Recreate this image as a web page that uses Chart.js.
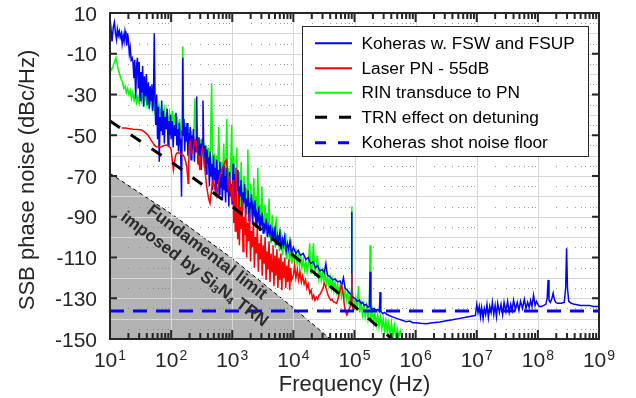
<!DOCTYPE html>
<html>
<head>
<meta charset="utf-8">
<script src="https://cdn.jsdelivr.net/npm/chart.js@4.4.1/dist/chart.umd.min.js"></script>
<style>
  html, body { margin: 0; padding: 0; background: #ffffff; }
  #c { display: block; }
</style>
</head>
<body>
<canvas id="c" width="636" height="398"></canvas>
<script>
// ---- Koheras laser measured with FSW and FSUP analysers ----
const kohFreq = [
  10, 10.4, 10.8, 11.3, 11.8, 12.3, 12.8, 13.2, 13.7, 14.2, 14.7, 15.3, 15.8, 16.4, 17, 17.6, 18.2, 18.8, 19.4, 20,
  20.7, 21.4, 22.2, 23, 23.8, 24.6, 25.4, 26.3, 27.2, 28.1, 29, 30, 31, 32, 33, 34.2, 35.4, 36.6, 38, 39.4,
  41, 42.5, 44, 45.5, 47, 48.5, 50, 51.5, 53, 54.5, 56, 58, 60, 62, 64, 66, 68, 70, 72.5, 75,
  77.5, 80, 83, 86, 89, 92, 95, 98, 100,
  104, 108, 112, 116, 120, 124, 128, 132, 136, 140, 144, 148, 151, 155, 158, 162, 167, 172, 177, 182,
  188, 194, 200, 206, 212, 218, 225, 232, 240, 248, 256, 262, 268, 276, 285, 294, 303, 312, 322, 332,
  342, 352, 363, 374, 386, 398, 410, 423, 436, 450, 464, 478, 493, 508, 524, 540, 557, 574, 592, 610,
  629, 648, 668, 689, 710, 732, 755, 778, 802, 827, 853, 879, 906, 934, 963, 1000,
  1030, 1060, 1100, 1130, 1170, 1200, 1240, 1280, 1320, 1360, 1400, 1450, 1500, 1550, 1600, 1650, 1700, 1760, 1820, 1880,
  1940, 2000, 2070, 2140, 2210, 2290, 2370, 2450, 2530, 2620, 2710, 2800, 2900, 3000, 3100, 3200, 3300, 3450, 3600, 3750,
  3900, 4050, 4200, 4400, 4600, 4800, 5000, 5250, 5500, 5750, 6000, 6300, 6600, 6900, 7200, 7600, 8000, 8400, 8800, 9300, 10000,
  11000, 12000, 13000, 14500, 16000, 17500, 19000, 21000, 23000, 25000, 27000, 30000, 32000, 34000, 36000, 40000, 44000, 48000, 53000, 58000,
  62000, 66000, 70000, 76000, 83000, 87000, 89000, 90000, 91000, 95000, 100000,
  105000, 110000, 120000, 128000, 135000, 145000, 155000, 165000, 175000, 180000, 185000, 195000, 210000, 225000, 240000, 255000, 262000, 270000, 290000, 310000,
  340000, 370000, 410000, 450000, 500000, 560000, 630000, 700000, 800000, 900000, 1000000,
  1200000, 1500000, 1900000, 2500000, 3200000, 4000000, 5000000, 6300000, 8000000, 9500000,
  1.0e7, 1.05e7, 1.1e7, 1.15e7, 1.2e7, 1.27e7, 1.33e7, 1.4e7, 1.47e7, 1.55e7, 1.63e7, 1.72e7, 1.8e7, 1.9e7, 2.0e7, 2.1e7, 2.2e7, 2.35e7, 2.5e7, 2.65e7,
  2.8e7, 3.0e7, 3.2e7, 3.4e7, 3.6e7, 3.8e7, 4.0e7, 4.3e7, 4.6e7, 4.9e7, 5.2e7, 5.6e7, 6.0e7, 6.4e7, 6.8e7, 7.2e7, 7.6e7, 8.0e7, 8.5e7, 9.0e7,
  9.5e7, 1.0e8,
  1.05e8, 1.15e8, 1.25e8, 1.35e8, 1.42e8, 1.47e8, 1.52e8, 1.6e8, 1.7e8, 1.78e8, 1.86e8, 1.95e8, 2.1e8, 2.4e8, 2.7e8, 2.85e8, 2.95e8, 3.05e8, 3.2e8, 3.5e8,
  4.0e8, 5.0e8, 6.0e8, 7.0e8, 8.0e8, 9.0e8, 1.0e9
];
const kohLevel = [
  8, 2, -4, 3, 5.5, 0, -3, 2, -1, 1, -2, 0, -5, -1, -4, 1, -2, -6, 0, -3,
  -10, -7, -13, -12, -14, -22, -13, -32, -16, -12, -27, -14, -33, -19, -29, -16, -36, -21, -31, -20,
  -35, -24, -37, -26, -33, -25, -38, -30, 0, -33, -45, -30, -52, -36, -63, -41, -48, -33, -50, -38,
  -54, -41, -47, -37, -55, -43, -50, -40, -52,
  -43, -56, -45, -50, -39, -55, -47, -58, -44, -52, -61, -80, -48, -12, -50, -42, -58, -46, -53, -44,
  -60, -49, -55, -46, -62, -50, -57, -47, -63, -52, -58, -31, -55, -64, -51, -60, -54, -67, -52, -33,
  -58, -66, -55, -69, -57, -63, -62, -75, -58, -70, -64, -77, -60, -72, -66, -80, -62, -74, -67, -79,
  -63, -76, -69, -82, -65, -77, -70, -83, -66, -78, -72, -85, -68, -80, -74, -84,
  -64, -81, -69, -86, -73, -77, -67, -88, -75, -80, -72, -90, -78, -83, -74, -89, -81, -85, -77, -92,
  -83, -86, -79, -93, -85, -88, -82, -95, -89, -91, -85, -97, -91, -93, -88, -98, -93, -96, -91, -100,
  -95, -98, -94, -102, -97, -100, -96, -104, -99, -102, -98, -106, -101, -104, -100, -107, -103, -106, -102, -108, -105,
  -108, -106.5, -109, -108, -111, -110, -113, -112, -115, -114, -116.5, -116, -117.5, -113, -118.5, -119.5, -121, -120.5, -122, -121.5,
  -123.5, -120, -125, -126, -127.5, -128, -128.5, -87.5, -129, -129.5, -130,
  -130.5, -131.5, -131, -132.5, -132, -133.5, -133, -134.5, -134, -117, -134.5, -135.5, -135, -136, -135.5, -136.5, -127, -136.5, -137.5, -137,
  -138, -138.5, -139, -139.5, -140, -140.5, -141, -141.5, -141.2, -142, -142,
  -142.3, -142.5, -142, -141.6, -141, -140.6, -140, -139.5, -138.8, -138.5,
  -133, -137, -134, -139, -134.5, -140, -135, -138, -133, -139.5, -134, -137, -132, -138, -133.5, -139, -132.5, -137, -133, -138,
  -132, -136.5, -131.5, -137, -133, -136, -131, -135.5, -132, -136, -131.5, -135, -130.5, -135, -132, -134.5, -131, -134, -128.5, -133.5,
  -131.5, -133,
  -134, -134, -133.5, -133, -130, -121, -131, -132, -130, -127.5, -130.5, -132, -132.5, -132.5, -132, -125, -105.5, -125, -131.5, -132.5,
  -133, -133.5, -133.5, -133.5, -134, -134, -134
];

// ---- Laser phase noise, shifted down by 55 dB ----
const laserFreq = [
  15.5, 18, 21, 24, 28, 33, 37, 42, 46, 51, 55, 58, 64, 70, 77, 85, 90, 96,
  100, 105, 109, 114, 118, 123, 130, 140, 150, 158, 166, 173, 180, 186, 190, 194, 199, 204, 210, 218, 230, 240,
  246, 255, 266, 278, 287, 296, 305, 315, 325, 336, 350, 366, 382, 400, 418, 433, 450, 470, 491, 510,
  530, 557, 580, 605, 630, 660, 690, 714, 760, 810, 835, 862, 900, 940, 979, 1000,
  1030, 1060, 1090, 1120, 1150, 1190, 1230, 1270, 1310, 1350, 1400, 1450, 1500, 1550, 1600, 1660, 1720, 1780, 1850, 1920,
  1990, 2060, 2140, 2220, 2300, 2390, 2480, 2570, 2670, 2770, 2870, 2980, 3090, 3210, 3330, 3450, 3580, 3720, 3860, 4000,
  4150, 4310, 4470, 4640, 4810, 4990, 5180, 5380, 5580, 5790, 6010, 6240, 6470, 6710, 6970, 7230, 7500, 7780, 8080, 8380,
  8700, 9030, 9370, 10000,
  10500, 11000, 11600, 12200, 12800, 13500, 14200, 15000, 15800, 16600, 17500, 18500, 19500, 20500, 21500, 22500, 23800, 25000, 26200, 27500,
  29000, 30600, 32000, 33500, 35000, 37000, 39000, 41000, 43000, 45000, 48000, 51000, 54000, 57000, 59000, 61000, 63500, 66000, 68000, 70000,
  72500, 75000, 79000, 82000, 85000, 88000, 89500, 91000, 95000, 100000
];
const laserLevel = [
  -46.5, -46.5, -46.8, -47.1, -47.2, -47.4, -48.5, -50, -52, -54, -55.3, -55.6, -55.8, -55.6, -55, -54.8, -55.2, -56,
  -57, -63, -67, -63, -60, -58.9, -58.5, -59, -59.5, -59.7, -61, -63, -65.4, -70, -73.6, -64, -55, -53.2, -56, -58.9, -57, -54,
  -52.3, -55, -58, -60.5, -64, -67, -63, -58, -56.4, -58, -64, -70, -75.3, -79, -82, -83.4, -79, -74, -72, -75,
  -78, -80, -76, -72, -70.3, -68, -66, -65.4, -63, -62.1, -68, -75.3, -72, -77, -81.8, -80,
  -72, -93, -80, -97, -66, -88, -101, -79, -104, -85, -96, -82, -107, -90, -99, -86, -110, -93, -102, -88,
  -112, -97, -105, -92, -115, -100, -108, -95, -117, -103, -111, -99, -119, -104, -113, -100, -121, -107, -116, -102,
  -122, -108, -117, -104, -124, -109, -119, -106, -125, -110, -121, -108, -126, -112, -120, -110, -125, -114, -122, -111,
  -126, -115, -121, -119,
  -114, -120, -116, -121, -117, -122, -119, -123, -121, -125, -123, -127.5, -126, -130, -128.5, -131, -129.5, -130.5, -128.5, -128,
  -126.5, -125, -122.7, -124, -126, -128.5, -130, -131, -130.5, -131.7, -132, -132.5, -130, -127, -125, -123.5, -126, -129.2, -133, -135.8,
  -137, -138.2, -136.6, -135, -134.2, -130, -117.8, -131, -135.8, -135
];

// ---- RIN transduced to phase noise ----
const rinFreq = [
  10, 10.5, 11, 11.5, 12, 12.5, 13, 13.5, 14, 14.5, 15.2, 16, 16.8, 17.6, 18.5, 19.4, 20.4, 21.4, 22.5, 23.6,
  24.8, 26, 27.3, 28.7, 30, 31.5, 33, 34.7, 36.4, 38.2, 40, 42, 44, 46.5, 49, 51.5, 54, 57, 60, 63,
  66, 69.5, 73, 77, 81, 85, 89, 94, 100,
  105, 110, 115, 120, 126, 132, 138, 144, 150, 155, 160, 166, 172, 179, 186, 193, 200, 208, 216, 225,
  235, 245, 255, 265, 276, 287, 298, 310, 322, 335, 348, 362, 376, 391, 406, 422, 440, 460, 475, 494,
  514, 534, 556, 578, 600, 620, 645, 670, 697, 725, 754, 784, 815, 840, 870, 905, 940, 980, 1000,
  1030, 1060, 1100, 1140, 1180, 1220, 1260, 1300, 1350, 1400, 1450, 1500, 1560, 1620, 1680, 1740, 1800, 1870, 1940, 2010,
  2090, 2170, 2250, 2340, 2430, 2520, 2620, 2720, 2830, 2940, 3050, 3170, 3300, 3430, 3560, 3700, 3850, 4000, 4150, 4320,
  4500, 4680, 4870, 5060, 5260, 5470, 5690, 5920, 6150, 6400, 6650, 6920, 7200, 7490, 7790, 8100, 8420, 8760, 9110, 9470, 10000,
  10500, 11000, 11500, 12000, 12600, 13200, 13800, 14500, 15200, 16000, 16800, 17600, 18500, 19400, 20300, 21300, 22400, 23500, 24700, 26000,
  27300, 28600, 30000, 31500, 33000, 34700, 36400, 38200, 40000, 42000, 44000, 46000, 48000, 50500, 53000, 55500, 58000, 61000, 64000, 67000,
  70000, 73500, 77000, 81000, 85000, 89000, 90000, 91000, 95000, 100000,
  105000, 110000, 116000, 122000, 128000, 135000, 142000, 150000, 158000, 166000, 175000, 180000, 185000, 195000, 205000, 215000, 227000, 240000, 252000, 265000,
  280000, 295000, 310000, 327000, 345000, 363000, 383000, 403000, 425000, 450000, 475000, 500000, 530000, 560000, 600000, 630000
];
const rinLevel = [
  -16, -18, -17, -15, -13.5, -12, -14.5, -17, -19, -20.5, -22.5, -24, -27, -26, -29, -27, -30, -28, -32, -29,
  -33, -30, -34, -31, -34, -29, -33, -29, -34, -30, -35, -31, -36, -32, -37, -33, -38, -34, -39, -35,
  -40, -36, -42, -37, -43, -38, -44, -39, -45,
  -38, -45, -40, -47, -41, -49, -42, -50, -43, -6.5, -45, -52, -44, -53, -46, -54, -47, -55, -48, -56,
  -49, -32, -50, -58, -51, -59, -52, -60, -53, -61, -54, -62, -55, -63, -56, -64, -57, -24.5, -58, -65,
  -59, -67, -60, -68, -46, -62, -70, -63, -71, -54, -72, -65, -42, -73, -66, -74, -67, -45, -75,
  -60, -78, -70, -83, -56, -75, -80, -68, -85, -63, -79, -87, -70, -84, -76, -89, -57, -82, -90, -74,
  -86, -92, -71, -88, -80, -94, -66, -90, -84, -96, -75, -93, -98, -84, -95, -88, -100, -81, -97, -103,
  -89, -101, -95, -105, -90, -104, -99, -107, -96, -103, -109, -100, -106, -98, -111, -104, -108, -112, -101, -113, -108,
  -112, -107, -113, -109, -114, -110, -115, -111, -116, -112, -117, -113, -103, -118, -114, -103, -119, -115, -109, -120,
  -116, -121, -117, -122, -118, -123, -119, -124, -120, -125, -121, -126, -122, -127, -123, -128, -124, -129, -125, -130,
  -126, -131, -127, -132, -128, -133, -85, -133, -129, -134,
  -130, -136, -124, -137, -132, -138, -133, -139, -134, -140, -135, -104, -141, -136, -142, -137, -143, -138, -144, -139,
  -145, -140, -146, -141, -147, -142, -148, -142, -149, -143.5, -150, -145, -149, -146, -150, -152
];

// ---- Thermorefractive noise contribution through detuning ----
const trnFreq = [10, 100, 1000, 10000, 100000, 1000000];
const trnLevel = [-43, -63, -85, -109, -134, -160];

// ---- Fundamental limit set by Si3N4 thermorefractive noise ----
const limitFreq = [10, 100, 1000, 10000, 100000];
const limitLevel = [-68.7, -88.5, -110.5, -134.7, -160];

// ---- Shot noise floor of the Koheras measurement ----
const shotFreq = [10, 1e9];
const shotLevel = [-136.3, -136.3];

// ---- Axis ticks and labels ----
const yTickValues = [10, -10, -30, -50, -70, -90, -110, -130, -150];
const xTickExponents = [1, 2, 3, 4, 5, 6, 7, 8, 9];
const xTitle = 'Frequency (Hz)';
const yTitle = 'SSB phase noise (dBc/Hz)';
const seriesNames = ['Koheras w. FSW and FSUP', 'Laser PN - 55dB', 'RIN transduce to PN', 'TRN effect on detuning', 'Koheras shot noise floor'];

const FONT = '"Liberation Sans", Arial, Helvetica, sans-serif';
const INK = '#262626';

function pairs(xs, ys) { return xs.map((f, i) => ({ x: f, y: ys[i] })); }

const LIMIT_INDEX = 0;

const datasets = [
  { label: 'limit', data: pairs(limitFreq, limitLevel), borderColor: '#000000', borderWidth: 1, borderDash: [4, 3],
    backgroundColor: '#b3b3b3', fill: 'start', order: 10 },
  { label: seriesNames[2], data: pairs(rinFreq, rinLevel), borderColor: '#00ff00', borderWidth: 1.5, fill: false, order: 5 },
  { label: seriesNames[0], data: pairs(kohFreq, kohLevel), borderColor: '#0000ff', borderWidth: 1.5, fill: false, order: 4 },
  { label: seriesNames[1], data: pairs(laserFreq, laserLevel), borderColor: '#ff0000', borderWidth: 1.5, fill: false, order: 3 },
  { label: seriesNames[3], data: pairs(trnFreq, trnLevel), borderColor: '#000000', borderWidth: 3, borderDash: [12, 13], fill: false, order: 2 },
  { label: seriesNames[4], data: pairs(shotFreq, shotLevel), borderColor: '#0000ff', borderWidth: 3, borderDash: [14, 9], fill: false, order: 1 }
];

// legend rows: colour, dash
const legendStyles = [
  { color: '#0000ff', dash: [], width: 2 },
  { color: '#ff0000', dash: [], width: 2 },
  { color: '#00ff00', dash: [], width: 2 },
  { color: '#000000', dash: [12, 12], width: 3 },
  { color: '#0000ff', dash: [11, 12], width: 3 }
];

function drawGrid(chart) {
  const { ctx, chartArea: a, scales: { x, y } } = chart;
  ctx.save();
  ctx.beginPath();
  ctx.rect(a.left, a.top, a.right - a.left, a.bottom - a.top);
  ctx.clip();
  ctx.strokeStyle = 'rgba(215,215,215,1)';
  ctx.lineWidth = 1;
  ctx.beginPath();
  for (const e of xTickExponents) {
    const px = Math.round(x.getPixelForValue(Math.pow(10, e))) + 0.5;
    ctx.moveTo(px, a.top); ctx.lineTo(px, a.bottom);
  }
  for (let v = 0; v >= -140; v -= 10) {
    const py = Math.round(y.getPixelForValue(v)) + 0.5;
    ctx.moveTo(a.left, py); ctx.lineTo(a.right, py);
  }
  ctx.stroke();
  ctx.fillStyle = 'rgba(120,120,120,0.75)';
  for (let e = 1; e < 9; e++) {
    for (let m = 2; m <= 9; m++) {
      const px = Math.round(x.getPixelForValue(m * Math.pow(10, e)));
      for (let v = 5; v >= -145; v -= 10) {
        const py = Math.round(y.getPixelForValue(v));
        ctx.fillRect(px, py, 1, 1);
      }
    }
  }
  ctx.restore();
}

function drawAxes(chart) {
  const { ctx, chartArea: a, scales: { x, y } } = chart;
  ctx.save();
  // ticks, pointing inward on all four sides
  ctx.strokeStyle = INK;
  ctx.lineWidth = 2;
  ctx.beginPath();
  for (let e = 1; e <= 9; e++) {
    const px = x.getPixelForValue(Math.pow(10, e));
    ctx.moveTo(px, a.bottom); ctx.lineTo(px, a.bottom - 9);
    ctx.moveTo(px, a.top); ctx.lineTo(px, a.top + 9);
    if (e < 9) {
      for (let m = 2; m <= 9; m++) {
        const pm = x.getPixelForValue(m * Math.pow(10, e));
        ctx.moveTo(pm, a.bottom); ctx.lineTo(pm, a.bottom - 6);
        ctx.moveTo(pm, a.top); ctx.lineTo(pm, a.top + 6);
      }
    }
  }
  for (const v of yTickValues) {
    const py = y.getPixelForValue(v);
    ctx.moveTo(a.left, py); ctx.lineTo(a.left + 7, py);
    ctx.moveTo(a.right, py); ctx.lineTo(a.right - 7, py);
  }
  ctx.stroke();
  ctx.strokeRect(a.left, a.top, a.right - a.left, a.bottom - a.top);

  // y tick labels
  ctx.fillStyle = INK;
  ctx.font = `21px ${FONT}`;
  ctx.textAlign = 'right';
  ctx.textBaseline = 'alphabetic';
  for (const v of yTickValues) {
    ctx.fillText(String(v), a.left - 13, y.getPixelForValue(v) + 7.5);
  }

  // x tick labels as powers of ten
  for (const e of xTickExponents) {
    const cx = x.getPixelForValue(Math.pow(10, e));
    ctx.font = `21px ${FONT}`;
    const wb = ctx.measureText('10').width;
    ctx.font = `14px ${FONT}`;
    const ws = ctx.measureText(String(e)).width;
    const x0 = cx - (wb + ws + 1) / 2;
    ctx.textAlign = 'left';
    ctx.font = `21px ${FONT}`;
    ctx.fillText('10', x0, a.bottom + 28);
    ctx.font = `14px ${FONT}`;
    ctx.fillText(String(e), x0 + wb + 1, a.bottom + 21);
  }

  // axis titles
  ctx.font = `22px ${FONT}`;
  ctx.textAlign = 'center';
  ctx.fillText(xTitle, (a.left + a.right) / 2, a.bottom + 52);
  ctx.save();
  ctx.translate(34, (a.top + a.bottom) / 2 + 4);
  ctx.rotate(-Math.PI / 2);
  ctx.fillText(yTitle, 0, 0);
  ctx.restore();

  // annotation inside the shaded region
  ctx.save();
  ctx.translate(200.5, 261);
  ctx.rotate(37 * Math.PI / 180);
  ctx.fillStyle = '#2b2b2b';
  ctx.textBaseline = 'middle';
  ctx.textAlign = 'left';
  const big = `bold 17px ${FONT}`, small = `bold 11px ${FONT}`;
  ctx.font = big;
  const l1 = 'Fundamental limit';
  const w1 = ctx.measureText(l1).width;
  ctx.fillText(l1, -w1 / 2, -10.5);
  const runs = [['imposed by Si', big, 0], ['3', small, 4], ['N', big, 0], ['4', small, 4], [' TRN', big, 0]];
  let tw = 0;
  for (const r of runs) { ctx.font = r[1]; tw += ctx.measureText(r[0]).width; }
  let cx = -tw / 2;
  for (const r of runs) {
    ctx.font = r[1];
    ctx.fillText(r[0], cx, 10.5 + r[2]);
    cx += ctx.measureText(r[0]).width;
  }
  ctx.restore();

  // legend box
  const L = { x: 302.5, y: 26.5, w: 286, h: 130, x0: 315, x1: 352, tx: 361.5 };
  const rows = [43.3, 68.3, 92.7, 117.3, 142.7];
  ctx.fillStyle = '#ffffff';
  ctx.fillRect(L.x, L.y, L.w, L.h);
  ctx.lineWidth = 1;
  ctx.strokeStyle = INK;
  ctx.strokeRect(L.x, L.y, L.w, L.h);
  ctx.font = `17.3px ${FONT}`;
  ctx.textAlign = 'left';
  ctx.textBaseline = 'middle';
  seriesNames.forEach((name, i) => {
    const s = legendStyles[i];
    ctx.strokeStyle = s.color;
    ctx.lineWidth = s.width;
    ctx.setLineDash(s.dash);
    ctx.beginPath();
    ctx.moveTo(L.x0, rows[i]); ctx.lineTo(L.x1, rows[i]);
    ctx.stroke();
    ctx.setLineDash([]);
    ctx.fillStyle = '#000000';
    ctx.fillText(name, L.tx, rows[i] + 1);
  });
  ctx.restore();
}

const framePlugin = {
  id: 'framePlugin',
  afterDatasetDraw(chart, args) {
    if (args.index === LIMIT_INDEX) drawGrid(chart);
  },
  afterDraw(chart) { drawAxes(chart); }
};

new Chart(document.getElementById('c'), {
  type: 'line',
  data: { datasets },
  options: {
    responsive: false,
    animation: false,
    devicePixelRatio: 1,
    layout: { padding: { left: 110, top: 13, right: 37, bottom: 59 } },
    plugins: { legend: { display: false }, tooltip: { enabled: false } },
    elements: { point: { radius: 0 }, line: { tension: 0 } },
    scales: {
      x: { type: 'logarithmic', min: 10, max: 1e9, display: false },
      y: { type: 'linear', min: -150, max: 10, display: false }
    }
  },
  plugins: [framePlugin]
});
</script>
</body>
</html>
